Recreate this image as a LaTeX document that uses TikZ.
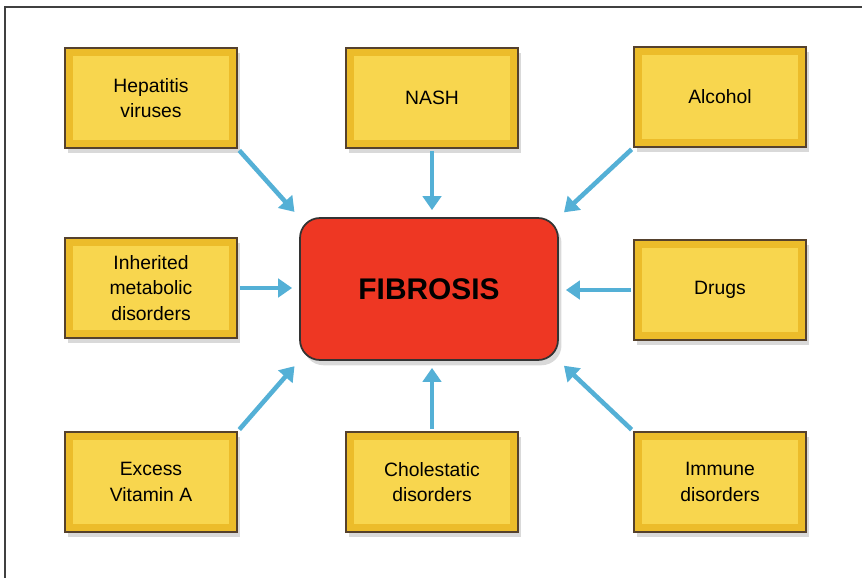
\documentclass[tikz,border=0pt]{standalone}
\usepackage{fontspec}
\setmainfont{Liberation Sans}
\usetikzlibrary{arrows.meta,shadows}
\definecolor{boxface}{RGB}{248,214,78}
\definecolor{boxedge}{RGB}{236,188,42}
\definecolor{boxline}{RGB}{85,65,45}
\definecolor{fibred}{RGB}{238,55,35}
\definecolor{arrblue}{RGB}{84,176,214}

\begin{document}
\begin{tikzpicture}[x=0.02cm,y=-0.02cm,
  cause/.style={draw=boxline,line width=1.3pt,fill=boxedge,
    minimum width=3.44cm,minimum height=2cm,align=center,
    font=\fontsize{11}{14.5}\selectfont,
    drop shadow={shadow xshift=1.5pt,shadow yshift=-3pt,opacity=0.3},
    path picture={\fill[boxface] ([shift={(4.5pt,-4.5pt)}]path picture bounding box.north west)
      rectangle ([shift={(-4.5pt,4.5pt)}]path picture bounding box.south east);}},
  fib/.style={draw=black!80,line width=1pt,fill=fibred,rounded corners=0.4cm,
    minimum width=5.16cm,minimum height=2.84cm,
    font=\fontsize{17}{20}\selectfont\bfseries,
    drop shadow={shadow xshift=2pt,shadow yshift=-3pt,opacity=0.3}},
  arr/.style={arrblue,line width=2.6pt,-{Triangle[length=8pt,width=10.5pt]},
    shorten <=1pt,shorten >=4pt}]
\useasboundingbox (0,0) rectangle (862,578);
\draw[black!75,line width=0.9pt] (5,578) -- (5,7) -- (862,7);

\node[fib] (fibrosis) at (429,289) {FIBROSIS};

\node[cause] (hep) at (151,98) {Hepatitis\\viruses};
\node[cause] (nash) at (432,98) {NASH};
\node[cause] (alc) at (720,97) {Alcohol};
\node[cause] (inh) at (151,288) {Inherited\\metabolic\\disorders};
\node[cause] (drugs) at (720,290) {Drugs};
\node[cause] (vita) at (151,482) {Excess\\Vitamin A};
\node[cause] (chol) at (432,482) {Cholestatic\\disorders};
\node[cause] (imm) at (720,482) {Immune\\disorders};

% arrows into the centre box
\draw[arr] (hep.south east) -- (fibrosis.north west);
\draw[arr] (alc.south west) -- (fibrosis.north east);
\draw[arr] (vita.north east) -- (fibrosis.south west);
\draw[arr] (imm.north west) -- (fibrosis.south east);
\draw[arr] (nash.south) -- (nash.south |- fibrosis.north);
\draw[arr] (chol.north) -- (chol.north |- fibrosis.south);
\draw[arr] (inh.east) -- (inh.east -| fibrosis.west);
\draw[arr] (drugs.west) -- (drugs.west -| fibrosis.east);
\end{tikzpicture}
\end{document}
